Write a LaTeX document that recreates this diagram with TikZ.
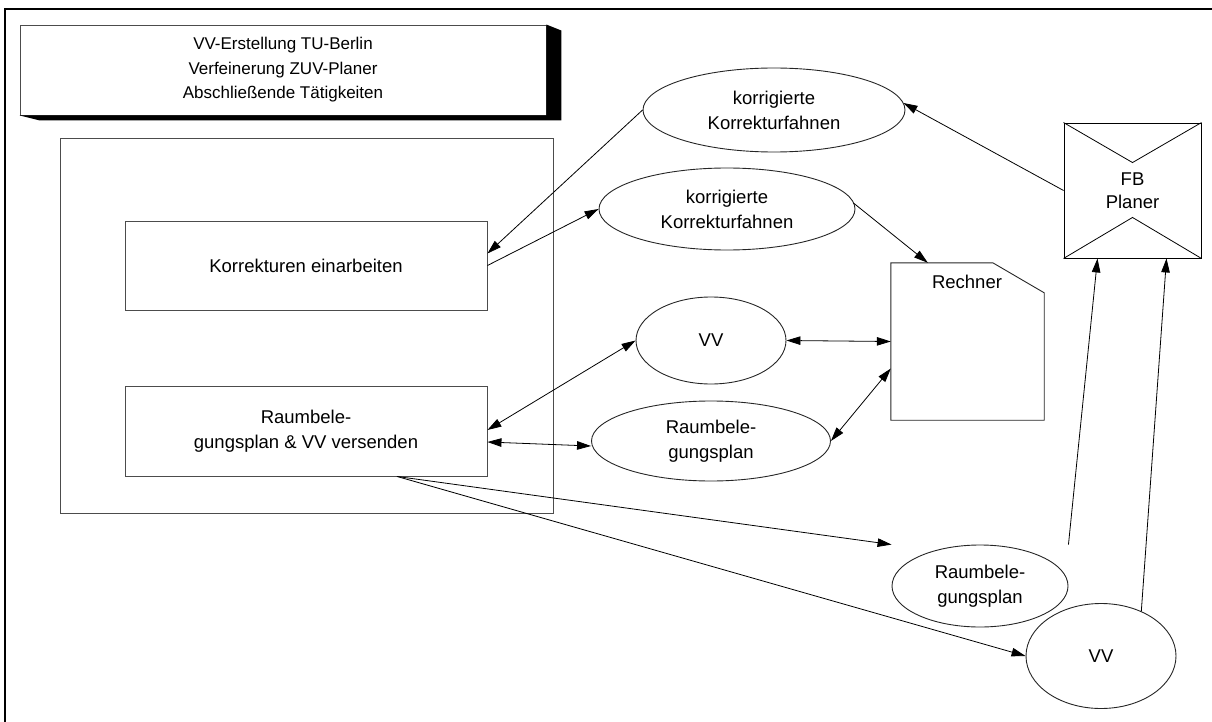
\documentclass[tikz,border=0pt]{standalone}
\usepackage{fontspec}
\setmainfont{Liberation Sans}
\usetikzlibrary{shapes.geometric,arrows.meta,calc}
\begin{document}
\begin{tikzpicture}[x=1pt,y=-1pt,
  txt/.style={font=\fontsize{18.5}{25}\selectfont, align=center},
  procbox/.style={draw=black!70, line width=0.9pt, fill=white, inner sep=0pt, txt},
  datum/.style={ellipse, draw=black!85, line width=0.9pt, inner sep=0pt, txt},
  flow/.style={line width=0.8pt, -{Triangle[length=14pt,width=8.5pt]}},
  biflow/.style={line width=0.8pt, {Triangle[length=14pt,width=8.5pt]}-{Triangle[length=14pt,width=8.5pt]}},
]
\useasboundingbox (0,0) rectangle (1212,722);

% page border (top and left edge)
\draw[line width=2.5pt] (5,722) -- (5,9) -- (1212,9);

% title block with drop shadow
\node[procbox, font=\fontsize{17}{24.5}\selectfont, minimum width=526, minimum height=90] (title) at (283,70)
  {VV-Erstellung TU-Berlin\\Verfeinerung ZUV-Planer\\Abschließende Tätigkeiten};
\fill[black] (title.south west) -- ($(title.south west)+(20,5)$) -- ($(title.south east)+(15,5)$)
  -- ($(title.north east)+(15,6)$) -- (title.north east) -- (title.south east) -- cycle;

% process container and its two activities
\node[procbox, fill=none, minimum width=493, minimum height=375] (proc) at (306.5,325.5) {};
\node[procbox, minimum width=362, minimum height=89] (ke) at (306,265.5) {Korrekturen einarbeiten};
\node[procbox, minimum width=362, minimum height=90] (rs) at (306,431) {Raumbele-\\gungsplan \& VV versenden};

% documents
\node[datum, minimum width=262, minimum height=84] (k1) at (774,110) {korrigierte\\Korrekturfahnen};
\node[datum, minimum width=256, minimum height=82] (k2) at (727,209) {korrigierte\\Korrekturfahnen};
\node[datum, minimum width=150, minimum height=87] (vvm) at (711,340.5) {VV};
\node[datum, minimum width=239, minimum height=80] (rm) at (711,441) {Raumbele-\\gungsplan};
\node[datum, minimum width=176, minimum height=82] (rb) at (980,586) {Raumbele-\\gungsplan};
\node[datum, minimum width=150, minimum height=105] (vvb) at (1101,656) {VV};

% computer (card shape with cut corner)
\node[minimum width=153, minimum height=157, inner sep=0pt] (rech) at (967.5,341.5) {};
\draw[black!85, line width=0.9pt] (rech.south west) -- (rech.north west) -- ($(rech.north west)+(102,0)$)
  -- ($(rech.north east)+(0,30)$) -- (rech.south east) -- cycle;
\node[txt] (rechlabel) at (967,282) {Rechner};

% external actor
\node[draw=black, line width=0.9pt, minimum width=137, minimum height=135, inner sep=0pt,
  font=\fontsize{18.5}{23}\selectfont, align=center] (fb) at (1132.5,190.5) {FB\\Planer};
\draw[line width=0.8pt] (fb.north west) -- ($(fb.north)+(0,40)$) -- (fb.north east);
\draw[line width=0.8pt] (fb.south west) -- ($(fb.south)+(0,-41)$) -- (fb.south east);

% data flows
\draw[flow] (k1.west) -- ($(ke.east)+(0,-12)$);
\draw[flow] (ke.east) -- (k2.west);
\draw[flow] ($(k2.east)+(-2,-6)$) -- ($(rech.north west)+(37,0)$);
\draw[flow] (fb.west) -- ($(k1.east)+(-2,-7)$);
\draw[biflow] (vvm.east) -- (rech.west);
\draw[biflow] (rm.east) -- ($(rech.west)+(0,27)$);
\draw[biflow] ($(rs.east)+(0,-1)$) -- (vvm.west);
\draw[biflow] ($(rs.east)+(0,11)$) -- ($(rm.west)+(0,5)$);
\draw[flow] ($(rs.south)+(91,0)$) -- (rb.west |- rb.north);
\draw[flow] ($(rs.south)+(91,0)$) -- (vvb.west);
\draw[flow] (rb.east |- rb.north) -- ($(fb.south)+(-35,0)$);
\draw[flow] (vvb.48) -- ($(fb.south)+(34,0)$);
\end{tikzpicture}
\end{document}
